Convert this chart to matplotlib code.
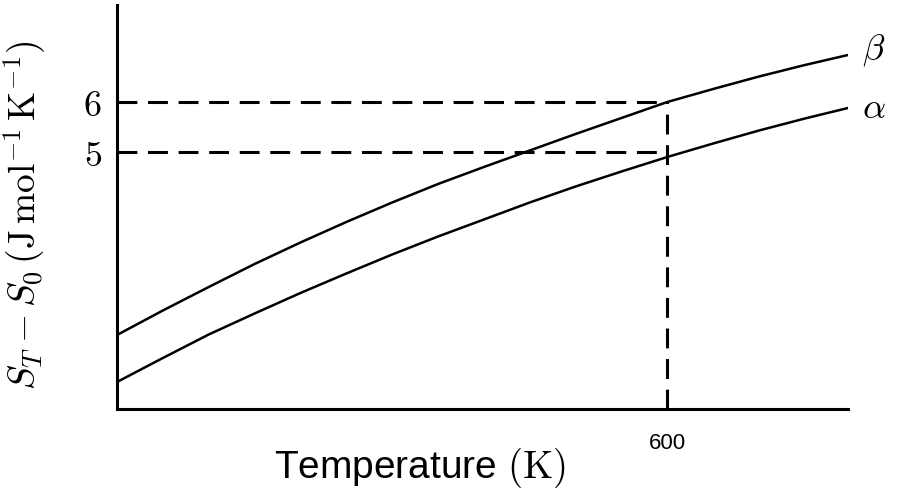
import matplotlib.pyplot as plt

plt.rcParams['mathtext.fontset'] = 'cm'

# ==================== data ====================
temps = [0, 50, 100, 150, 200, 250, 300, 350, 400, 450, 500, 550, 600, 650, 700, 750, 797]
s_beta = [1.34, 1.83, 2.30, 2.76, 3.19, 3.60, 3.99, 4.36, 4.70, 5.03, 5.36, 5.68,
          6.00, 6.26, 6.51, 6.74, 6.94]
s_alpha = [0.40, 0.88, 1.35, 1.77, 2.18, 2.57, 2.95, 3.31, 3.65, 3.99, 4.31, 4.61,
           4.90, 5.17, 5.43, 5.67, 5.88]

mark_temp = 600
mark_levels = [5, 6]
ytick_labels = ['$5$', '$6$']

# ==================== plot ====================
fig = plt.figure(figsize=(9, 5.03), dpi=100)
ax = fig.add_axes([117 / 900, 1 - 409 / 503, (848 - 117) / 900, (409 - 5) / 503])

ax.plot(temps, s_beta, color='black', lw=1.8)
ax.plot(temps, s_alpha, color='black', lw=1.8)

# guide lines
for lev in mark_levels:
    ax.plot([0, mark_temp], [lev, lev], color='black', lw=2.2,
            linestyle=(0, (6.5, 3.5)))
ax.plot([mark_temp, mark_temp], [-0.14, max(mark_levels)], color='black', lw=2.2,
        linestyle=(0, (6.5, 3.5)))

ax.set_xlim(0, 797)
ax.set_ylim(-0.14, 7.94)

for side in ['top', 'right']:
    ax.spines[side].set_visible(False)
for side in ['left', 'bottom']:
    ax.spines[side].set_linewidth(2.2)

ax.set_yticks(mark_levels)
ax.set_yticklabels(ytick_labels, fontsize=26)
ax.tick_params(axis='y', length=0, pad=11)

ax.set_xticks([mark_temp])
ax.set_xticklabels([str(mark_temp)], fontsize=16, family='Liberation Sans')
ax.tick_params(axis='x', length=0, pad=17)

# curve names
ax.text(temps[-1] + 15, s_beta[-1] + 0.1, r'$\beta$', fontsize=26,
        ha='left', va='center', clip_on=False)
ax.text(temps[-1] + 15, s_alpha[-1] + 0.0, r'$\alpha$', fontsize=26,
        ha='left', va='center', clip_on=False)

# axis titles
fig.text(420 / 900, 1 - 468 / 503, r'Temperature $(\mathrm{K})$', fontsize=28,
         family='Liberation Sans', ha='center', va='center')
fig.text(25 / 900, 1 - 215 / 503,
         r'$S_T - S_0\,(\mathrm{J\,mol^{-1}\,K^{-1}})$', fontsize=27,
         rotation=90, ha='center', va='center')

plt.savefig('out.png', dpi=100)
plt.close()
